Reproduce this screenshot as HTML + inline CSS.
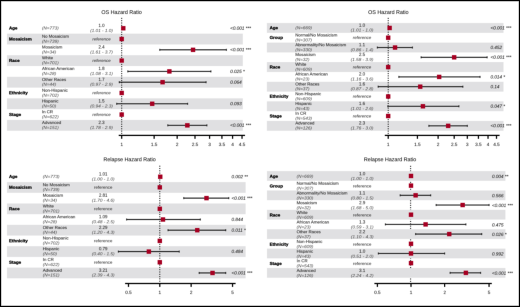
<!DOCTYPE html>
<html><head><meta charset="utf-8"><style>
html,body{margin:0;padding:0;background:#fff;}
body{width:520px;height:307px;position:relative;overflow:hidden;}
#sc{position:absolute;left:0;top:0;width:2080px;height:1228px;transform:scale(0.25);transform-origin:0 0;will-change:transform;}
#bl{position:absolute;left:0;top:0;width:2080px;height:1228px;filter:blur(1.5px);background:#fff;}
#fr{position:absolute;left:0;top:0;width:518px;height:305px;border:1px solid #000;box-shadow:inset 0 0 0.6px 0.4px rgba(0,0,0,.45);}
svg{position:absolute;left:0;top:0;font-family:"Liberation Sans",sans-serif;}
text{fill:#222;}
.t{font-size:21.4px;text-anchor:middle;fill:#111;}
.v{font-size:17.0px;font-weight:bold;fill:#000;}
.c{font-size:17.2px;}
.n{font-size:15.6px;font-style:italic;}
.h{font-size:17.6px;text-anchor:middle;}
.i{font-size:16.0px;font-style:italic;text-anchor:middle;}
.r{font-size:17.4px;text-anchor:middle;}
.p{font-size:18.4px;font-style:italic;}
.a{font-size:18.4px;text-anchor:middle;}
.ri{font-style:italic;}
text{stroke:#222;stroke-width:0.24px;}
.v{stroke:#000;stroke-width:0.8px;}
.h{stroke-width:0.2px;}
.t{stroke:#111;stroke-width:0.16px;}
.r{stroke-width:0;}
.n,.i{fill:#3c3c3c;stroke:#3c3c3c;stroke-width:0.0px;}
</style></head><body>
<div id="sc"><div id="bl">
<svg width="2080" height="1228" viewBox="0 0 2080 1228">
<rect x="28.0" y="134.6" width="943.2" height="43.2" fill="#e0e0e2"/>
<rect x="28.0" y="220.9" width="943.2" height="43.2" fill="#e0e0e2"/>
<rect x="28.0" y="307.2" width="943.2" height="43.2" fill="#e0e0e2"/>
<rect x="28.0" y="393.5" width="943.2" height="43.2" fill="#e0e0e2"/>
<rect x="28.0" y="479.8" width="943.2" height="43.2" fill="#e0e0e2"/>
<line x1="486.8" x2="486.8" y1="71.6" y2="541.6" stroke="#111" stroke-width="4.0" stroke-dasharray="4.0 5.2"/>
<rect x="484.3" y="104.2" width="17.6" height="17.6" fill="#a60022"/>
<rect x="478.0" y="147.3" width="17.6" height="17.6" fill="#a60022"/>
<line x1="639.2" x2="905.5" y1="199.3" y2="199.3" stroke="#262626" stroke-width="4.4"/>
<rect x="637.2" y="195.3" width="4.0" height="8.0" fill="#262626"/>
<rect x="903.5" y="195.3" width="4.0" height="8.0" fill="#262626"/>
<rect x="763.4" y="190.5" width="17.6" height="17.6" fill="#a60022"/>
<rect x="478.0" y="233.7" width="17.6" height="17.6" fill="#a60022"/>
<line x1="511.4" x2="843.6" y1="285.6" y2="285.6" stroke="#262626" stroke-width="4.4"/>
<rect x="509.4" y="281.6" width="4.0" height="8.0" fill="#262626"/>
<rect x="841.6" y="281.6" width="4.0" height="8.0" fill="#262626"/>
<rect x="668.7" y="276.8" width="17.6" height="17.6" fill="#a60022"/>
<line x1="477.1" x2="824.2" y1="328.8" y2="328.8" stroke="#262626" stroke-width="4.4"/>
<rect x="475.1" y="324.8" width="4.0" height="8.0" fill="#262626"/>
<rect x="822.2" y="324.8" width="4.0" height="8.0" fill="#262626"/>
<rect x="641.5" y="320.0" width="17.6" height="17.6" fill="#a60022"/>
<rect x="478.0" y="363.1" width="17.6" height="17.6" fill="#a60022"/>
<line x1="467.0" x2="750.5" y1="415.1" y2="415.1" stroke="#262626" stroke-width="4.4"/>
<rect x="465.0" y="411.1" width="4.0" height="8.0" fill="#262626"/>
<rect x="748.5" y="411.1" width="4.0" height="8.0" fill="#262626"/>
<rect x="600.0" y="406.3" width="17.6" height="17.6" fill="#a60022"/>
<rect x="478.0" y="449.5" width="17.6" height="17.6" fill="#a60022"/>
<line x1="671.3" x2="827.5" y1="501.4" y2="501.4" stroke="#262626" stroke-width="4.4"/>
<rect x="669.3" y="497.4" width="4.0" height="8.0" fill="#262626"/>
<rect x="825.5" y="497.4" width="4.0" height="8.0" fill="#262626"/>
<rect x="740.3" y="492.6" width="17.6" height="17.6" fill="#a60022"/>
<line x1="474.8" x2="980.0" y1="541.6" y2="541.6" stroke="#000" stroke-width="5.0"/>
<line x1="486.8" x2="486.8" y1="541.6" y2="555.2" stroke="#000" stroke-width="4.8"/>
<line x1="616.5" x2="616.5" y1="541.6" y2="555.2" stroke="#000" stroke-width="4.8"/>
<line x1="708.6" x2="708.6" y1="541.6" y2="555.2" stroke="#000" stroke-width="4.8"/>
<line x1="780.0" x2="780.0" y1="541.6" y2="555.2" stroke="#000" stroke-width="4.8"/>
<line x1="838.4" x2="838.4" y1="541.6" y2="555.2" stroke="#000" stroke-width="4.8"/>
<line x1="887.7" x2="887.7" y1="541.6" y2="555.2" stroke="#000" stroke-width="4.8"/>
<line x1="930.4" x2="930.4" y1="541.6" y2="555.2" stroke="#000" stroke-width="4.8"/>
<line x1="968.1" x2="968.1" y1="541.6" y2="555.2" stroke="#000" stroke-width="4.8"/>
<rect x="1067.6" y="92.2" width="946.4" height="39.2" fill="#e0e0e2"/>
<rect x="1067.6" y="170.5" width="946.4" height="39.2" fill="#e0e0e2"/>
<rect x="1067.6" y="248.8" width="946.4" height="39.2" fill="#e0e0e2"/>
<rect x="1067.6" y="327.2" width="946.4" height="39.2" fill="#e0e0e2"/>
<rect x="1067.6" y="405.5" width="946.4" height="39.2" fill="#e0e0e2"/>
<rect x="1067.6" y="483.8" width="946.4" height="39.2" fill="#e0e0e2"/>
<line x1="1552.8" x2="1552.8" y1="71.6" y2="541.6" stroke="#111" stroke-width="4.0" stroke-dasharray="4.0 5.2"/>
<rect x="1549.7" y="103.0" width="17.6" height="17.6" fill="#a60022"/>
<rect x="1544.0" y="142.1" width="17.6" height="17.6" fill="#a60022"/>
<line x1="1509.4" x2="1649.7" y1="190.1" y2="190.1" stroke="#262626" stroke-width="4.4"/>
<rect x="1507.4" y="186.1" width="4.0" height="8.0" fill="#262626"/>
<rect x="1647.7" y="186.1" width="4.0" height="8.0" fill="#262626"/>
<rect x="1571.4" y="181.3" width="17.6" height="17.6" fill="#a60022"/>
<line x1="1684.5" x2="1948.4" y1="229.3" y2="229.3" stroke="#262626" stroke-width="4.4"/>
<rect x="1682.5" y="225.3" width="4.0" height="8.0" fill="#262626"/>
<rect x="1946.4" y="225.3" width="4.0" height="8.0" fill="#262626"/>
<rect x="1807.9" y="220.5" width="17.6" height="17.6" fill="#a60022"/>
<rect x="1544.0" y="259.6" width="17.6" height="17.6" fill="#a60022"/>
<line x1="1595.5" x2="1920.1" y1="307.6" y2="307.6" stroke="#262626" stroke-width="4.4"/>
<rect x="1593.5" y="303.6" width="4.0" height="8.0" fill="#262626"/>
<rect x="1918.1" y="303.6" width="4.0" height="8.0" fill="#262626"/>
<rect x="1747.9" y="298.8" width="17.6" height="17.6" fill="#a60022"/>
<line x1="1512.7" x2="1851.4" y1="346.7" y2="346.7" stroke="#262626" stroke-width="4.4"/>
<rect x="1510.7" y="342.7" width="4.0" height="8.0" fill="#262626"/>
<rect x="1849.4" y="342.7" width="4.0" height="8.0" fill="#262626"/>
<rect x="1672.1" y="337.9" width="17.6" height="17.6" fill="#a60022"/>
<rect x="1544.0" y="377.1" width="17.6" height="17.6" fill="#a60022"/>
<line x1="1551.4" x2="1835.6" y1="425.1" y2="425.1" stroke="#262626" stroke-width="4.4"/>
<rect x="1549.4" y="421.1" width="4.0" height="8.0" fill="#262626"/>
<rect x="1833.6" y="421.1" width="4.0" height="8.0" fill="#262626"/>
<rect x="1682.9" y="416.3" width="17.6" height="17.6" fill="#a60022"/>
<rect x="1544.0" y="455.4" width="17.6" height="17.6" fill="#a60022"/>
<line x1="1715.6" x2="1869.2" y1="503.4" y2="503.4" stroke="#262626" stroke-width="4.4"/>
<rect x="1713.6" y="499.4" width="4.0" height="8.0" fill="#262626"/>
<rect x="1867.2" y="499.4" width="4.0" height="8.0" fill="#262626"/>
<rect x="1783.9" y="494.6" width="17.6" height="17.6" fill="#a60022"/>
<line x1="1539.2" x2="1998.4" y1="541.6" y2="541.6" stroke="#000" stroke-width="5.0"/>
<line x1="1552.8" x2="1552.8" y1="541.6" y2="555.2" stroke="#000" stroke-width="4.8"/>
<line x1="1669.6" x2="1669.6" y1="541.6" y2="555.2" stroke="#000" stroke-width="4.8"/>
<line x1="1752.4" x2="1752.4" y1="541.6" y2="555.2" stroke="#000" stroke-width="4.8"/>
<line x1="1816.7" x2="1816.7" y1="541.6" y2="555.2" stroke="#000" stroke-width="4.8"/>
<line x1="1869.2" x2="1869.2" y1="541.6" y2="555.2" stroke="#000" stroke-width="4.8"/>
<line x1="1913.6" x2="1913.6" y1="541.6" y2="555.2" stroke="#000" stroke-width="4.8"/>
<line x1="1952.1" x2="1952.1" y1="541.6" y2="555.2" stroke="#000" stroke-width="4.8"/>
<line x1="1986.0" x2="1986.0" y1="541.6" y2="555.2" stroke="#000" stroke-width="4.8"/>
<rect x="28.0" y="728.4" width="954.4" height="42.8" fill="#e0e0e2"/>
<rect x="28.0" y="813.9" width="954.4" height="42.8" fill="#e0e0e2"/>
<rect x="28.0" y="899.4" width="954.4" height="42.8" fill="#e0e0e2"/>
<rect x="28.0" y="984.9" width="954.4" height="42.8" fill="#e0e0e2"/>
<rect x="28.0" y="1070.4" width="954.4" height="42.8" fill="#e0e0e2"/>
<line x1="639.2" x2="639.2" y1="662.8" y2="1134.0" stroke="#111" stroke-width="4.0" stroke-dasharray="4.0 5.2"/>
<rect x="632.2" y="698.2" width="17.6" height="17.6" fill="#a60022"/>
<rect x="630.4" y="740.9" width="17.6" height="17.6" fill="#a60022"/>
<line x1="735.1" x2="915.1" y1="792.5" y2="792.5" stroke="#262626" stroke-width="4.4"/>
<rect x="733.1" y="788.5" width="4.0" height="8.0" fill="#262626"/>
<rect x="913.1" y="788.5" width="4.0" height="8.0" fill="#262626"/>
<rect x="817.2" y="783.7" width="17.6" height="17.6" fill="#a60022"/>
<rect x="630.4" y="826.5" width="17.6" height="17.6" fill="#a60022"/>
<line x1="506.5" x2="801.2" y1="878.0" y2="878.0" stroke="#262626" stroke-width="4.4"/>
<rect x="504.5" y="874.0" width="4.0" height="8.0" fill="#262626"/>
<rect x="799.2" y="874.0" width="4.0" height="8.0" fill="#262626"/>
<rect x="643.1" y="869.2" width="17.6" height="17.6" fill="#a60022"/>
<line x1="672.2" x2="902.9" y1="920.8" y2="920.8" stroke="#262626" stroke-width="4.4"/>
<rect x="670.2" y="916.8" width="4.0" height="8.0" fill="#262626"/>
<rect x="900.9" y="916.8" width="4.0" height="8.0" fill="#262626"/>
<rect x="780.2" y="912.0" width="17.6" height="17.6" fill="#a60022"/>
<rect x="630.4" y="954.7" width="17.6" height="17.6" fill="#a60022"/>
<line x1="473.5" x2="716.8" y1="1006.3" y2="1006.3" stroke="#262626" stroke-width="4.4"/>
<rect x="471.5" y="1002.3" width="4.0" height="8.0" fill="#262626"/>
<rect x="714.8" y="1002.3" width="4.0" height="8.0" fill="#262626"/>
<rect x="586.6" y="997.5" width="17.6" height="17.6" fill="#a60022"/>
<rect x="630.4" y="1040.3" width="17.6" height="17.6" fill="#a60022"/>
<line x1="796.7" x2="902.9" y1="1091.8" y2="1091.8" stroke="#262626" stroke-width="4.4"/>
<rect x="794.7" y="1087.8" width="4.0" height="8.0" fill="#262626"/>
<rect x="900.9" y="1087.8" width="4.0" height="8.0" fill="#262626"/>
<rect x="841.3" y="1083.0" width="17.6" height="17.6" fill="#a60022"/>
<line x1="500.4" x2="942.4" y1="1134.0" y2="1134.0" stroke="#000" stroke-width="5.0"/>
<line x1="513.9" x2="513.9" y1="1134.0" y2="1147.6" stroke="#000" stroke-width="4.8"/>
<line x1="639.2" x2="639.2" y1="1134.0" y2="1147.6" stroke="#000" stroke-width="4.8"/>
<line x1="764.5" x2="764.5" y1="1134.0" y2="1147.6" stroke="#000" stroke-width="4.8"/>
<line x1="930.2" x2="930.2" y1="1134.0" y2="1147.6" stroke="#000" stroke-width="4.8"/>
<line x1="1642.4" x2="1642.4" y1="663.2" y2="1134.0" stroke="#111" stroke-width="4.0" stroke-dasharray="4.0 5.2"/>
<rect x="1068.0" y="684.4" width="953.6" height="38.8" fill="#e0e0e2"/>
<rect x="1068.0" y="761.9" width="953.6" height="38.8" fill="#e0e0e2"/>
<rect x="1068.0" y="839.4" width="953.6" height="38.8" fill="#e0e0e2"/>
<rect x="1068.0" y="917.0" width="953.6" height="38.8" fill="#e0e0e2"/>
<rect x="1068.0" y="994.5" width="953.6" height="38.8" fill="#e0e0e2"/>
<rect x="1068.0" y="1072.0" width="953.6" height="38.8" fill="#e0e0e2"/>
<rect x="1635.2" y="695.0" width="17.6" height="17.6" fill="#a60022"/>
<rect x="1635.2" y="733.7" width="17.6" height="17.6" fill="#a60022"/>
<line x1="1600.7" x2="1722.7" y1="781.3" y2="781.3" stroke="#262626" stroke-width="4.4"/>
<rect x="1598.7" y="777.3" width="4.0" height="8.0" fill="#262626"/>
<rect x="1720.7" y="777.3" width="4.0" height="8.0" fill="#262626"/>
<rect x="1653.7" y="772.5" width="17.6" height="17.6" fill="#a60022"/>
<line x1="1744.6" x2="1956.2" y1="820.1" y2="820.1" stroke="#262626" stroke-width="4.4"/>
<rect x="1742.6" y="816.1" width="4.0" height="8.0" fill="#262626"/>
<rect x="1954.2" y="816.1" width="4.0" height="8.0" fill="#262626"/>
<rect x="1841.8" y="811.3" width="17.6" height="17.6" fill="#a60022"/>
<rect x="1635.2" y="850.0" width="17.6" height="17.6" fill="#a60022"/>
<line x1="1541.6" x2="1863.5" y1="897.6" y2="897.6" stroke="#262626" stroke-width="4.4"/>
<rect x="1539.6" y="893.6" width="4.0" height="8.0" fill="#262626"/>
<rect x="1861.5" y="893.6" width="4.0" height="8.0" fill="#262626"/>
<rect x="1693.6" y="888.8" width="17.6" height="17.6" fill="#a60022"/>
<line x1="1662.5" x2="1927.0" y1="936.3" y2="936.3" stroke="#262626" stroke-width="4.4"/>
<rect x="1660.5" y="932.3" width="4.0" height="8.0" fill="#262626"/>
<rect x="1925.0" y="932.3" width="4.0" height="8.0" fill="#262626"/>
<rect x="1788.2" y="927.5" width="17.6" height="17.6" fill="#a60022"/>
<rect x="1635.2" y="966.3" width="17.6" height="17.6" fill="#a60022"/>
<line x1="1513.4" x2="1778.5" y1="1013.9" y2="1013.9" stroke="#262626" stroke-width="4.4"/>
<rect x="1511.4" y="1009.9" width="4.0" height="8.0" fill="#262626"/>
<rect x="1776.5" y="1009.9" width="4.0" height="8.0" fill="#262626"/>
<rect x="1635.2" y="1005.1" width="17.6" height="17.6" fill="#a60022"/>
<rect x="1635.2" y="1043.8" width="17.6" height="17.6" fill="#a60022"/>
<line x1="1800.5" x2="1922.4" y1="1091.4" y2="1091.4" stroke="#262626" stroke-width="4.4"/>
<rect x="1798.5" y="1087.4" width="4.0" height="8.0" fill="#262626"/>
<rect x="1920.4" y="1087.4" width="4.0" height="8.0" fill="#262626"/>
<rect x="1854.7" y="1082.6" width="17.6" height="17.6" fill="#a60022"/>
<line x1="1497.6" x2="1967.2" y1="1134.0" y2="1134.0" stroke="#000" stroke-width="5.0"/>
<line x1="1509.5" x2="1509.5" y1="1134.0" y2="1147.6" stroke="#000" stroke-width="4.8"/>
<line x1="1644.0" x2="1644.0" y1="1134.0" y2="1147.6" stroke="#000" stroke-width="4.8"/>
<line x1="1778.5" x2="1778.5" y1="1134.0" y2="1147.6" stroke="#000" stroke-width="4.8"/>
<line x1="1956.2" x2="1956.2" y1="1134.0" y2="1147.6" stroke="#000" stroke-width="4.8"/>
<text class="t" x="486.4" y="56.4">OS Hazard Ratio</text>
<text class="v" transform="translate(36.0 118.4) scale(1.05 1)">Age</text>
<text class="n" transform="translate(168.0 118.4) scale(1.18 1)">(N=773)</text>
<text class="h" x="406.0" y="107.8">1.0</text>
<text class="i" transform="translate(406.0 127.6) scale(1.16 1)">(1.01 - 1.0)</text>
<text class="p" x="920.8" y="119.0">&lt;0.001 ***</text>
<text class="v" transform="translate(36.0 161.5) scale(1.05 1)">Mosaicism</text>
<text class="c" x="168.0" y="150.9">No Mosaicism</text>
<text class="n" transform="translate(168.0 170.7) scale(1.18 1)">(N=739)</text>
<text class="r ri" x="406.0" y="161.5">reference</text>
<text class="c" x="168.0" y="194.1">Mosaicism</text>
<text class="n" transform="translate(168.0 213.9) scale(1.18 1)">(N=34)</text>
<text class="h" x="406.0" y="194.1">2.4</text>
<text class="i" transform="translate(406.0 213.9) scale(1.16 1)">(1.61 - 3.7)</text>
<text class="p" x="920.8" y="205.3">&lt;0.001 ***</text>
<text class="v" transform="translate(36.0 247.9) scale(1.05 1)">Race</text>
<text class="c" x="168.0" y="237.3">White</text>
<text class="n" transform="translate(168.0 257.1) scale(1.18 1)">(N=701)</text>
<text class="r ri" x="406.0" y="247.9">reference</text>
<text class="c" x="168.0" y="280.4">African American</text>
<text class="n" transform="translate(168.0 300.2) scale(1.18 1)">(N=28)</text>
<text class="h" x="406.0" y="280.4">1.8</text>
<text class="i" transform="translate(406.0 300.2) scale(1.16 1)">(1.08 - 3.1)</text>
<text class="p" x="920.8" y="291.6">0.025 *</text>
<text class="c" x="168.0" y="323.6">Other Races</text>
<text class="n" transform="translate(168.0 343.4) scale(1.18 1)">(N=44)</text>
<text class="h" x="406.0" y="323.6">1.7</text>
<text class="i" transform="translate(406.0 343.4) scale(1.16 1)">(0.97 - 2.9)</text>
<text class="p" x="920.8" y="334.8">0.064</text>
<text class="v" transform="translate(36.0 377.3) scale(1.05 1)">Ethnicity</text>
<text class="c" x="168.0" y="366.7">Non-Hispanic</text>
<text class="n" transform="translate(168.0 386.5) scale(1.18 1)">(N=702)</text>
<text class="r ri" x="406.0" y="377.3">reference</text>
<text class="c" x="168.0" y="409.9">Hispanic</text>
<text class="n" transform="translate(168.0 429.7) scale(1.18 1)">(N=50)</text>
<text class="h" x="406.0" y="409.9">1.5</text>
<text class="i" transform="translate(406.0 429.7) scale(1.16 1)">(0.94 - 2.3)</text>
<text class="p" x="920.8" y="421.1">0.093</text>
<text class="v" transform="translate(36.0 463.7) scale(1.05 1)">Stage</text>
<text class="c" x="168.0" y="453.1">In CR</text>
<text class="n" transform="translate(168.0 472.9) scale(1.18 1)">(N=622)</text>
<text class="r ri" x="406.0" y="463.7">reference</text>
<text class="c" x="168.0" y="496.2">Advanced</text>
<text class="n" transform="translate(168.0 516.0) scale(1.18 1)">(N=151)</text>
<text class="h" x="406.0" y="496.2">2.3</text>
<text class="i" transform="translate(406.0 516.0) scale(1.16 1)">(1.78 - 2.9)</text>
<text class="p" x="920.8" y="507.4">&lt;0.001 ***</text>
<text class="a" x="486.8" y="584.0">1</text>
<text class="a" x="616.5" y="584.0">1.5</text>
<text class="a" x="708.6" y="584.0">2</text>
<text class="a" x="780.0" y="584.0">2.5</text>
<text class="a" x="838.4" y="584.0">3</text>
<text class="a" x="887.7" y="584.0">3.5</text>
<text class="a" x="930.4" y="584.0">4</text>
<text class="a" x="968.1" y="584.0">4.5</text>
<text class="t" x="1553.4" y="56.4">OS Hazard Ratio</text>
<text class="v" transform="translate(1078.4 117.2) scale(1.05 1)">Age</text>
<text class="n" transform="translate(1181.2 117.2) scale(1.18 1)">(N=669)</text>
<text class="h" x="1448.0" y="106.6">1.0</text>
<text class="i" transform="translate(1448.0 126.4) scale(1.16 1)">(1.01 - 1.0)</text>
<text class="p" x="1962.0" y="117.8">&lt;0.001 ***</text>
<text class="v" transform="translate(1078.4 156.3) scale(1.05 1)">Group</text>
<text class="c" x="1181.2" y="145.7">Normal/No Mosaicism</text>
<text class="n" transform="translate(1181.2 165.5) scale(1.18 1)">(N=307)</text>
<text class="r ri" x="1448.0" y="156.3">reference</text>
<text class="c" x="1181.2" y="184.9">Abnormality/No Mosaicism</text>
<text class="n" transform="translate(1181.2 204.7) scale(1.18 1)">(N=330)</text>
<text class="h" x="1448.0" y="184.9">1.1</text>
<text class="i" transform="translate(1448.0 204.7) scale(1.16 1)">(0.86 - 1.4)</text>
<text class="p" x="1962.0" y="196.1">0.452</text>
<text class="c" x="1181.2" y="224.1">Mosaicism</text>
<text class="n" transform="translate(1181.2 243.9) scale(1.18 1)">(N=32)</text>
<text class="h" x="1448.0" y="224.1">2.5</text>
<text class="i" transform="translate(1448.0 243.9) scale(1.16 1)">(1.58 - 3.9)</text>
<text class="p" x="1962.0" y="235.3">&lt;0.001 ***</text>
<text class="v" transform="translate(1078.4 273.8) scale(1.05 1)">Race</text>
<text class="c" x="1181.2" y="263.2">White</text>
<text class="n" transform="translate(1181.2 283.0) scale(1.18 1)">(N=609)</text>
<text class="r ri" x="1448.0" y="273.8">reference</text>
<text class="c" x="1181.2" y="302.4">African American</text>
<text class="n" transform="translate(1181.2 322.2) scale(1.18 1)">(N=23)</text>
<text class="h" x="1448.0" y="302.4">2.0</text>
<text class="i" transform="translate(1448.0 322.2) scale(1.16 1)">(1.16 - 3.6)</text>
<text class="p" x="1962.0" y="313.6">0.014 *</text>
<text class="c" x="1181.2" y="341.5">Other Races</text>
<text class="n" transform="translate(1181.2 361.3) scale(1.18 1)">(N=37)</text>
<text class="h" x="1448.0" y="341.5">1.6</text>
<text class="i" transform="translate(1448.0 361.3) scale(1.16 1)">(0.87 - 2.8)</text>
<text class="p" x="1962.0" y="352.7">0.14</text>
<text class="v" transform="translate(1078.4 391.3) scale(1.05 1)">Ethnicity</text>
<text class="c" x="1181.2" y="380.7">Non-Hispanic</text>
<text class="n" transform="translate(1181.2 400.5) scale(1.18 1)">(N=609)</text>
<text class="r ri" x="1448.0" y="391.3">reference</text>
<text class="c" x="1181.2" y="419.9">Hispanic</text>
<text class="n" transform="translate(1181.2 439.7) scale(1.18 1)">(N=43)</text>
<text class="h" x="1448.0" y="419.9">1.6</text>
<text class="i" transform="translate(1448.0 439.7) scale(1.16 1)">(1.01 - 2.6)</text>
<text class="p" x="1962.0" y="431.1">0.047 *</text>
<text class="v" transform="translate(1078.4 469.6) scale(1.05 1)">Stage</text>
<text class="c" x="1181.2" y="459.0">In CR</text>
<text class="n" transform="translate(1181.2 478.8) scale(1.18 1)">(N=543)</text>
<text class="r ri" x="1448.0" y="469.6">reference</text>
<text class="c" x="1181.2" y="498.2">Advanced</text>
<text class="n" transform="translate(1181.2 518.0) scale(1.18 1)">(N=126)</text>
<text class="h" x="1448.0" y="498.2">2.3</text>
<text class="i" transform="translate(1448.0 518.0) scale(1.16 1)">(1.76 - 3.0)</text>
<text class="p" x="1962.0" y="509.4">&lt;0.001 ***</text>
<text class="a" x="1552.8" y="584.0">1</text>
<text class="a" x="1669.6" y="584.0">1.5</text>
<text class="a" x="1752.4" y="584.0">2</text>
<text class="a" x="1816.7" y="584.0">2.5</text>
<text class="a" x="1869.2" y="584.0">3</text>
<text class="a" x="1913.6" y="584.0">3.5</text>
<text class="a" x="1952.1" y="584.0">4</text>
<text class="a" x="1986.0" y="584.0">4.5</text>
<text class="t" x="518.4" y="644.8">Relapse Hazard Ratio</text>
<text class="v" transform="translate(36.0 712.4) scale(1.05 1)">Age</text>
<text class="n" transform="translate(171.2 712.4) scale(1.18 1)">(N=773)</text>
<text class="h" x="412.8" y="701.8">1.01</text>
<text class="i" transform="translate(412.8 721.6) scale(1.16 1)">(1.00 - 1.0)</text>
<text class="p" x="926.0" y="713.0">0.002 **</text>
<text class="v" transform="translate(36.0 755.1) scale(1.05 1)">Mosaicism</text>
<text class="c" x="171.2" y="744.5">No Mosaicism</text>
<text class="n" transform="translate(171.2 764.3) scale(1.18 1)">(N=739)</text>
<text class="r" x="412.8" y="755.1">reference</text>
<text class="c" x="171.2" y="787.3">Mosaicism</text>
<text class="n" transform="translate(171.2 807.1) scale(1.18 1)">(N=34)</text>
<text class="h" x="412.8" y="787.3">2.81</text>
<text class="i" transform="translate(412.8 807.1) scale(1.16 1)">(1.70 - 4.6)</text>
<text class="p" x="926.0" y="798.5">&lt;0.001 ***</text>
<text class="v" transform="translate(36.0 840.7) scale(1.05 1)">Race</text>
<text class="c" x="171.2" y="830.1">White</text>
<text class="n" transform="translate(171.2 849.9) scale(1.18 1)">(N=701)</text>
<text class="r" x="412.8" y="840.7">reference</text>
<text class="c" x="171.2" y="872.8">African American</text>
<text class="n" transform="translate(171.2 892.6) scale(1.18 1)">(N=28)</text>
<text class="h" x="412.8" y="872.8">1.09</text>
<text class="i" transform="translate(412.8 892.6) scale(1.16 1)">(0.48 - 2.5)</text>
<text class="p" x="926.0" y="884.0">0.844</text>
<text class="c" x="171.2" y="915.6">Other Races</text>
<text class="n" transform="translate(171.2 935.4) scale(1.18 1)">(N=44)</text>
<text class="h" x="412.8" y="915.6">2.29</text>
<text class="i" transform="translate(412.8 935.4) scale(1.16 1)">(1.20 - 4.3)</text>
<text class="p" x="926.0" y="926.8">0.011 *</text>
<text class="v" transform="translate(36.0 968.9) scale(1.05 1)">Ethnicity</text>
<text class="c" x="171.2" y="958.3">Non-Hispanic</text>
<text class="n" transform="translate(171.2 978.1) scale(1.18 1)">(N=702)</text>
<text class="r" x="412.8" y="968.9">reference</text>
<text class="c" x="171.2" y="1001.1">Hispanic</text>
<text class="n" transform="translate(171.2 1020.9) scale(1.18 1)">(N=50)</text>
<text class="h" x="412.8" y="1001.1">0.79</text>
<text class="i" transform="translate(412.8 1020.9) scale(1.16 1)">(0.40 - 1.5)</text>
<text class="p" x="926.0" y="1012.3">0.484</text>
<text class="v" transform="translate(36.0 1054.5) scale(1.05 1)">Stage</text>
<text class="c" x="171.2" y="1043.9">In CR</text>
<text class="n" transform="translate(171.2 1063.7) scale(1.18 1)">(N=622)</text>
<text class="r" x="412.8" y="1054.5">reference</text>
<text class="c" x="171.2" y="1086.6">Advanced</text>
<text class="n" transform="translate(171.2 1106.4) scale(1.18 1)">(N=151)</text>
<text class="h" x="412.8" y="1086.6">3.21</text>
<text class="i" transform="translate(412.8 1106.4) scale(1.16 1)">(2.39 - 4.3)</text>
<text class="p" x="926.0" y="1097.8">&lt;0.001 ***</text>
<text class="a" x="513.9" y="1176.4">0.5</text>
<text class="a" x="639.2" y="1176.4">1</text>
<text class="a" x="764.5" y="1176.4">2</text>
<text class="a" x="930.2" y="1176.4">5</text>
<text class="t" x="1560.0" y="644.8">Relapse Hazard Ratio</text>
<text class="v" transform="translate(1078.4 711.2) scale(1.05 1)">Age</text>
<text class="n" transform="translate(1186.4 711.2) scale(1.18 1)">(N=669)</text>
<text class="h" x="1448.8" y="700.6">1.0</text>
<text class="i" transform="translate(1448.8 720.4) scale(1.16 1)">(1.00 - 1.0)</text>
<text class="p" x="1968.0" y="711.8">0.004 **</text>
<text class="v" transform="translate(1078.4 749.9) scale(1.05 1)">Group</text>
<text class="c" x="1186.4" y="739.3">Normal/No Mosaicism</text>
<text class="n" transform="translate(1186.4 759.1) scale(1.18 1)">(N=307)</text>
<text class="r" x="1448.8" y="749.9">reference</text>
<text class="c" x="1186.4" y="778.1">Abnormality/No Mosaicism</text>
<text class="n" transform="translate(1186.4 797.9) scale(1.18 1)">(N=330)</text>
<text class="h" x="1448.8" y="778.1">1.1</text>
<text class="i" transform="translate(1448.8 797.9) scale(1.16 1)">(0.80 - 1.5)</text>
<text class="p" x="1968.0" y="789.3">0.566</text>
<text class="c" x="1186.4" y="816.9">Mosaicism</text>
<text class="n" transform="translate(1186.4 836.7) scale(1.18 1)">(N=32)</text>
<text class="h" x="1448.8" y="816.9">2.9</text>
<text class="i" transform="translate(1448.8 836.7) scale(1.16 1)">(1.68 - 5.0)</text>
<text class="p" x="1968.0" y="828.1">&lt;0.001 ***</text>
<text class="v" transform="translate(1078.4 866.2) scale(1.05 1)">Race</text>
<text class="c" x="1186.4" y="855.6">White</text>
<text class="n" transform="translate(1186.4 875.4) scale(1.18 1)">(N=609)</text>
<text class="r" x="1448.8" y="866.2">reference</text>
<text class="c" x="1186.4" y="894.4">African American</text>
<text class="n" transform="translate(1186.4 914.2) scale(1.18 1)">(N=23)</text>
<text class="h" x="1448.8" y="894.4">1.3</text>
<text class="i" transform="translate(1448.8 914.2) scale(1.16 1)">(0.59 - 3.1)</text>
<text class="p" x="1968.0" y="905.6">0.475</text>
<text class="c" x="1186.4" y="933.1">Other Races</text>
<text class="n" transform="translate(1186.4 952.9) scale(1.18 1)">(N=37)</text>
<text class="h" x="1448.8" y="933.1">2.2</text>
<text class="i" transform="translate(1448.8 952.9) scale(1.16 1)">(1.10 - 4.3)</text>
<text class="p" x="1968.0" y="944.3">0.026 *</text>
<text class="v" transform="translate(1078.4 982.5) scale(1.05 1)">Ethnicity</text>
<text class="c" x="1186.4" y="971.9">Non-Hispanic</text>
<text class="n" transform="translate(1186.4 991.7) scale(1.18 1)">(N=609)</text>
<text class="r" x="1448.8" y="982.5">reference</text>
<text class="c" x="1186.4" y="1010.7">Hispanic</text>
<text class="n" transform="translate(1186.4 1030.5) scale(1.18 1)">(N=43)</text>
<text class="h" x="1448.8" y="1010.7">1.0</text>
<text class="i" transform="translate(1448.8 1030.5) scale(1.16 1)">(0.51 - 2.0)</text>
<text class="p" x="1968.0" y="1021.9">0.992</text>
<text class="v" transform="translate(1078.4 1060.0) scale(1.05 1)">Stage</text>
<text class="c" x="1186.4" y="1049.4">In CR</text>
<text class="n" transform="translate(1186.4 1069.2) scale(1.18 1)">(N=543)</text>
<text class="r" x="1448.8" y="1060.0">reference</text>
<text class="c" x="1186.4" y="1088.2">Advanced</text>
<text class="n" transform="translate(1186.4 1108.0) scale(1.18 1)">(N=126)</text>
<text class="h" x="1448.8" y="1088.2">3.1</text>
<text class="i" transform="translate(1448.8 1108.0) scale(1.16 1)">(2.24 - 4.2)</text>
<text class="p" x="1968.0" y="1099.4">&lt;0.001 ***</text>
<text class="a" x="1509.5" y="1176.4">0.5</text>
<text class="a" x="1644.0" y="1176.4">1</text>
<text class="a" x="1778.5" y="1176.4">2</text>
<text class="a" x="1956.2" y="1176.4">5</text>
</svg>
</div></div>
<div id="fr"></div>
</body></html>
